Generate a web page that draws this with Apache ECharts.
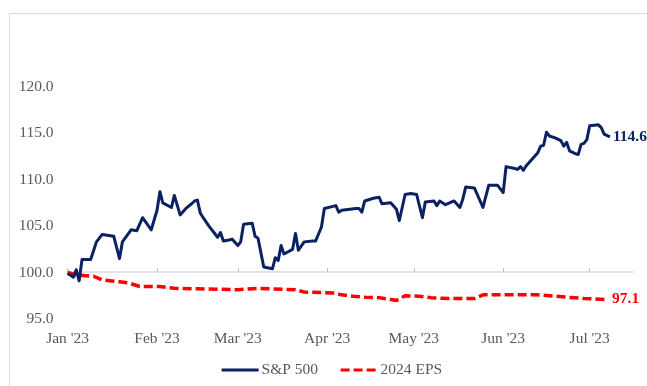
<!DOCTYPE html>
<html><head><meta charset="utf-8">
<script src="https://cdn.jsdelivr.net/npm/echarts@6/dist/echarts.min.js"></script>
<style>html,body{margin:0;padding:0;background:#fff}#c{width:647px;height:386px}</style>
</head><body><div id="c"></div>
<script>
// S&P 500 indexed to 100
var spDates = ['2023-01-01','2023-01-02','2023-01-03','2023-01-04','2023-01-05','2023-01-06','2023-01-09','2023-01-11','2023-01-13','2023-01-17','2023-01-19','2023-01-20','2023-01-23','2023-01-25','2023-01-27','2023-01-30',
'2023-02-01','2023-02-02','2023-02-03','2023-02-06','2023-02-07','2023-02-09','2023-02-11','2023-02-13','2023-02-14','2023-02-15','2023-02-16','2023-02-17','2023-02-19','2023-02-21','2023-02-22','2023-02-23','2023-02-24','2023-02-26','2023-02-27',
'2023-03-01','2023-03-02','2023-03-03','2023-03-06','2023-03-07','2023-03-08','2023-03-10','2023-03-13','2023-03-14','2023-03-15','2023-03-16','2023-03-17','2023-03-20','2023-03-21','2023-03-22','2023-03-24','2023-03-27','2023-03-28','2023-03-30','2023-03-31',
'2023-04-04','2023-04-05','2023-04-06','2023-04-11','2023-04-12','2023-04-13','2023-04-14','2023-04-17','2023-04-19','2023-04-20','2023-04-23','2023-04-25','2023-04-26','2023-04-28','2023-04-30',
'2023-05-02','2023-05-04','2023-05-05','2023-05-08','2023-05-09','2023-05-10','2023-05-12','2023-05-15','2023-05-17','2023-05-18','2023-05-19','2023-05-22','2023-05-25','2023-05-27','2023-05-30',
'2023-06-01','2023-06-02','2023-06-05','2023-06-06','2023-06-07','2023-06-08','2023-06-09','2023-06-11','2023-06-13','2023-06-14','2023-06-15','2023-06-16','2023-06-17','2023-06-19','2023-06-21','2023-06-22','2023-06-23','2023-06-24','2023-06-26','2023-06-27','2023-06-28','2023-06-29','2023-06-30',
'2023-07-01','2023-07-04','2023-07-05','2023-07-06','2023-07-08'];
var spValues = [99.9,99.7,99.5,100.3,99.1,101.4,101.4,103.3,104.1,103.9,101.5,103.3,104.6,104.5,105.9,104.6,
106.7,108.7,107.5,107.0,108.3,106.2,106.9,107.4,107.7,107.8,106.4,105.9,105.0,104.2,103.8,104.3,103.4,103.5,103.6,
102.9,103.3,105.2,105.3,103.9,103.7,100.6,100.4,101.6,101.3,102.9,102.0,102.5,104.2,102.4,103.3,103.4,103.4,104.9,106.9,
107.2,106.5,106.7,106.9,106.9,106.5,107.7,108.0,108.1,107.4,107.5,106.8,105.6,108.4,108.5,
108.4,105.9,107.6,107.7,107.2,107.7,107.3,107.7,107.0,107.9,109.2,109.1,107.0,109.4,109.4,
108.6,111.4,111.2,111.1,111.4,111.0,111.5,112.2,112.9,113.6,113.7,115.1,114.7,114.5,114.2,113.6,114.0,113.1,112.8,112.7,113.8,113.9,114.3,
115.8,115.9,115.6,114.9,114.6];

// 2024 EPS estimate indexed to 100
var epsDates = ['2023-01-01','2023-01-04','2023-01-10','2023-01-13','2023-01-19','2023-01-22','2023-01-26','2023-02-02','2023-02-07','2023-02-15','2023-02-22',
'2023-03-01','2023-03-08','2023-03-12','2023-03-21','2023-03-24','2023-04-03','2023-04-06','2023-04-10','2023-04-14','2023-04-19','2023-04-25','2023-04-28',
'2023-05-03','2023-05-07','2023-05-13','2023-05-22','2023-05-25','2023-05-31','2023-06-13','2023-06-23','2023-06-29','2023-07-07'];
var epsValues = [100.0,99.75,99.6,99.2,99.0,98.9,98.5,98.5,98.3,98.25,98.2,
98.15,98.3,98.25,98.15,97.9,97.8,97.6,97.45,97.35,97.3,97.0,97.5,
97.45,97.3,97.2,97.2,97.6,97.6,97.6,97.35,97.2,97.1];

var monthTicks = ['2023-01-01','2023-02-01','2023-03-01','2023-04-01','2023-05-01','2023-06-01','2023-07-01'];
var monthLabels = ["Jan '23","Feb '23","Mar '23","Apr '23","May '23","Jun '23","Jul '23"];
var yMin = 95, yMax = 120, yStep = 5;
var xMin = '2023-01-01', xMax = '2023-07-16';

function ts(s){ return new Date(s + 'T00:00:00Z').getTime(); }
function pairs(d, v){ return d.map(function(x,i){ return [ts(x), v[i]]; }); }
var tickTs = monthTicks.map(ts);

var FONT = 'Liberation Serif';
var chart = echarts.init(document.getElementById('c'), null, {renderer:'canvas'});
chart.setOption({
  animation: false,
  backgroundColor: '#fff',
  graphic: [{
    type: 'rect', left: 7, top: 11, silent: true,
    shape: {width: 700, height: 400},
    style: {fill: 'none', stroke: '#d9d9d9', lineWidth: 1}
  }],
  grid: {left: 67.6, right: 14, top: 86.7, bottom: 67, containLabel: false},
  legend: {
    bottom: 3, left: 215, itemWidth: 37, itemHeight: 12, itemGap: 21,
    itemStyle: {opacity: 0},
    lineStyle: {width: 3.2},
    textStyle: {fontFamily: FONT, fontSize: 15.5, color: '#595959', padding: [0,0,0,-2]},
    data: ['S&P 500', '2024 EPS']
  },
  xAxis: {
    type: 'value', min: ts(xMin), max: ts(xMax),
    offset: -47,
    axisLine: {show: true, lineStyle: {color: '#d9d9d9', width: 1.5}},
    axisTick: {show: true, inside: true, length: 4, customValues: tickTs, lineStyle: {color: '#bfbfbf'}},
    axisLabel: {
      customValues: tickTs, margin: 59,
      fontFamily: FONT, fontSize: 15.5, color: '#595959',
      formatter: function(v){ var i = tickTs.indexOf(v); return i >= 0 ? monthLabels[i] : ''; }
    },
    splitLine: {show: false}
  },
  yAxis: {
    type: 'value', min: yMin, max: yMax, interval: yStep,
    axisLine: {show: false}, axisTick: {show: false}, splitLine: {show: false},
    axisLabel: {margin: 14, fontFamily: FONT, fontSize: 15.5, color: '#595959',
      formatter: function(v){ return v.toFixed(1); }}
  },
  series: [{
    name: 'S&P 500', type: 'line', data: pairs(spDates, spValues),
    symbol: 'none', showSymbol: false, z: 3,
    lineStyle: {color: '#0b2161', width: 3, join: 'round'},
    itemStyle: {color: '#0b2161'},
    endLabel: {show: true, distance: 3, fontFamily: FONT, fontSize: 15.5, fontWeight: 'bold', color: '#0b2161',
      formatter: function(p){ return p.value[1].toFixed(1); }}
  }, {
    name: '2024 EPS', type: 'line', data: pairs(epsDates, epsValues),
    symbol: 'none', showSymbol: false, z: 2,
    lineStyle: {color: '#ff0000', width: 3.5, type: [9, 4]},
    itemStyle: {color: '#ff0000'},
    endLabel: {show: true, distance: 5, fontFamily: FONT, fontSize: 15.5, fontWeight: 'bold', color: '#ff0000',
      formatter: function(p){ return p.value[1].toFixed(1); }}
  }]
});
</script></body></html>
